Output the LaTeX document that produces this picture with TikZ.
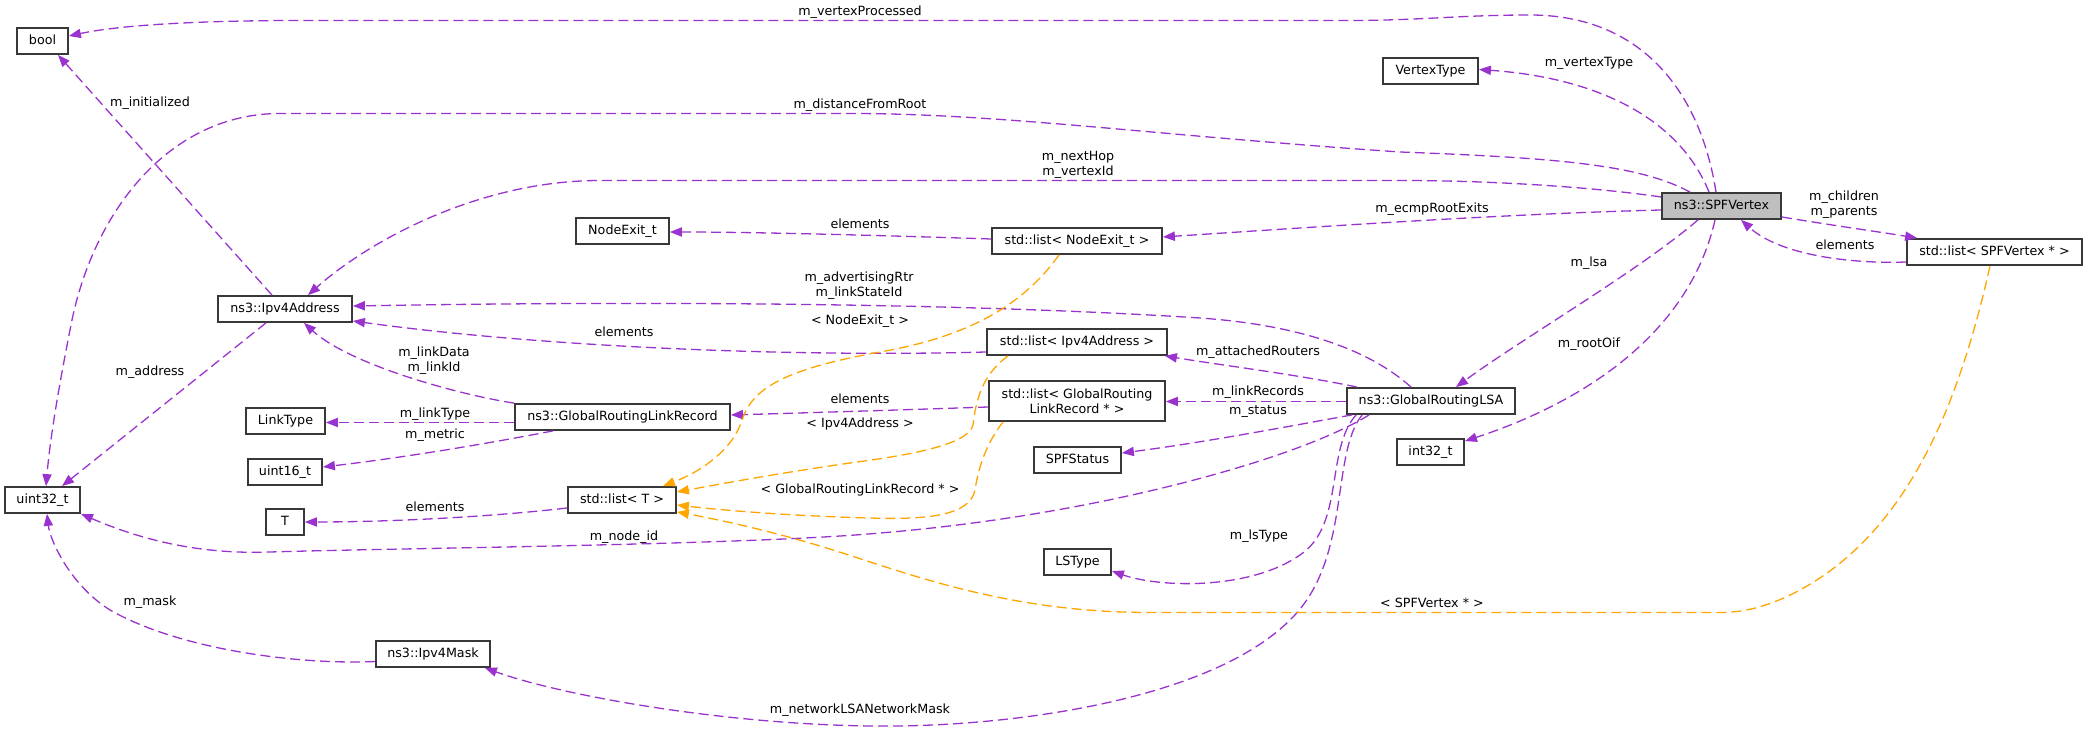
\documentclass[tikz,border=0pt]{standalone}
\usepackage{fontspec}
\setmainfont{DejaVu Sans}
\usetikzlibrary{arrows.meta}
\definecolor{edgep}{HTML}{9A32CD}
\definecolor{edgeo}{HTML}{FFA500}
\definecolor{boxgray}{HTML}{BFBFBF}
\newcommand\dxfont{\fontsize{6.35}{7.4}\selectfont}
\tikzset{
  cls/.style={draw=black!78, line width=0.9pt, fill=white, font=\dxfont, inner xsep=1pt, inner ysep=0pt,
    minimum height=13pt, text height=4.9pt, text depth=1.3pt, align=center},
  lbl/.style={font=\dxfont, inner sep=0pt, align=center},
  pe/.style={draw=edgep, line width=0.65pt, dash pattern=on 5pt off 2.5pt,
    -{Triangle[length=6pt,width=4.6pt,fill=edgep]}},
  oe/.style={draw=edgeo, line width=0.65pt, dash pattern=on 5pt off 2.5pt,
    -{Triangle[length=6pt,width=4.6pt,fill=edgeo]}}
}
\begin{document}
\begin{tikzpicture}[x=0.5pt,y=-0.5pt]
\useasboundingbox (0,0) rectangle (2088,731);
% nodes
\node[cls, minimum width=25.5pt] (bool) at (42.5,41) {bool};
\node[cls, minimum width=47.5pt] (vt) at (1430.5,71) {VertexType};
\node[cls, minimum width=46.5pt] (ne) at (622.5,231) {NodeExit\_t};
\node[cls, minimum width=85pt] (lne) at (1077,241) {std::list\textless{} NodeExit\_t \textgreater{}};
\node[cls, minimum width=59.5pt, fill=boxgray] (spf) at (1721.5,206) {ns3::SPFVertex};
\node[cls, minimum width=87.5pt] (lsv) at (1994.5,252) {std::list\textless{} SPFVertex * \textgreater{}};
\node[cls, minimum width=67pt] (ipa) at (285,309) {ns3::Ipv4Address};
\node[cls, minimum width=90pt] (lia) at (1077,342) {std::list\textless{} Ipv4Address \textgreater{}};
\node[cls, minimum width=107.5pt] (grlr) at (622.5,417) {ns3::GlobalRoutingLinkRecord};
\node[cls, minimum width=88pt, minimum height=20pt, text height=, text depth=] (lgr) at (1077,401) {std::list\textless{} GlobalRouting\\LinkRecord * \textgreater{}};
\node[cls, minimum width=84pt] (lsa) at (1431,401) {ns3::GlobalRoutingLSA};
\node[cls, minimum width=39.5pt] (lty) at (285.5,421) {LinkType};
\node[cls, minimum width=37pt] (u16) at (285,472) {uint16\_t};
\node[cls, minimum width=43.5pt] (sps) at (1077.5,460) {SPFStatus};
\node[cls, minimum width=33.5pt] (i32) at (1430.5,452) {int32\_t};
\node[cls, minimum width=37.5pt] (u32) at (42.5,500) {uint32\_t};
\node[cls, minimum width=19pt] (tt) at (285,522) {T};
\node[cls, minimum width=54pt] (lt) at (622,500) {std::list\textless{} T \textgreater{}};
\node[cls, minimum width=33.5pt] (lst) at (1077.5,562) {LSType};
\node[cls, minimum width=57pt] (msk) at (433,654) {ns3::Ipv4Mask};
% purple edges
\draw[pe] ([shift={(-5.5,0)}]spf.north) .. controls (1700,90) and (1640,15) .. (1530,15)
  .. controls (1460,15) and (1420,20.5) .. (1350,20.5) -- (300,20.5) .. controls (200,20.5) and (120,25) .. ([shift={(0,-5)}]bool.east);
\draw[pe] ([shift={(-12.5,0)}]spf.north) .. controls (1680,120) and (1600,78) .. ([shift={(0,-1.5)}]vt.east);
\draw[pe] ([shift={(-31.5,0)}]spf.north) .. controls (1640,165) and (1560,158) .. (1400,152)
  .. controls (1150,135) and (1000,113.5) .. (850,113.5) -- (280,113.5)
  .. controls (170,113.5) and (95,210) .. (72,320) .. controls (58,390) and (50,440) .. ([shift={(3.5,0)}]u32.north);
\draw[pe] ([shift={(0,-9)}]spf.west) .. controls (1600,188) and (1500,180.5) .. (1400,180.5) -- (600,180.5)
  .. controls (480,180.5) and (370,240) .. ([shift={(23,0)}]ipa.north);
\draw[pe] ([shift={(0,4)}]spf.west) .. controls (1500,214) and (1300,228) .. ([shift={(0,-4)}]lne.east);
\draw[pe] ([shift={(0,-2)}]lne.west) .. controls (900,236) and (760,232) .. ([shift={(0,1)}]ne.east);
\draw[pe] ([shift={(0,11)}]spf.east) .. controls (1830,225) and (1880,232) .. ([shift={(11,0)}]lsv.north west);
\draw[pe] ([shift={(0,10)}]lsv.west) .. controls (1850,264) and (1780,255) .. ([shift={(19.5,0)}]spf.south);
\draw[pe] ([shift={(-23.5,0)}]spf.south) .. controls (1640,270) and (1520,340) .. ([shift={(25,0)}]lsa.north);
\draw[pe] ([shift={(-6.5,0)}]spf.south) .. controls (1690,330) and (1590,400) .. ([shift={(0,3)}]i32.north east);
\draw[pe] ([shift={(-20,0)}]lsa.north) .. controls (1370,350) and (1300,325) .. (1200,318)
  .. controls (1000,305) and (700,300) .. ([shift={(0,-3)}]ipa.east);
\draw[pe] ([shift={(0,10)}]lia.west) .. controls (800,357) and (550,348) .. ([shift={(0,12)}]ipa.east);
\draw[pe] ([shift={(11,0)}]lsa.north west) .. controls (1300,375) and (1220,365) .. ([shift={(-3,0)}]lia.south east);
\draw[pe] ([shift={(0,0.5)}]lsa.west) -- ([shift={(0,0.5)}]lgr.east);
\draw[pe] ([shift={(6,0)}]lsa.south west) .. controls (1280,428) and (1200,443) .. ([shift={(0,-7)}]sps.east);
\draw[pe] ([shift={(10,0)}]lsa.south west) .. controls (1325,450) and (1345,525) .. (1300,555)
  .. controls (1250,590) and (1160,588) .. ([shift={(0,9)}]lst.east);
\draw[pe] ([shift={(23,0)}]lsa.south west) .. controls (1300,458) and (1100,515) .. (880,533)
  .. controls (750,545) and (400,548) .. (270,552) .. controls (190,555) and (130,535) .. (u32.south east);
\draw[pe] ([shift={(16,0)}]lsa.south west) .. controls (1330,455) and (1352,560) .. (1290,620)
  .. controls (1210,700) and (1010,728) .. (870,726) .. controls (720,724) and (560,695) .. ([shift={(-6,0)}]msk.south east);
\draw[pe] ([shift={(0,5.5)}]grlr.west) -- ([shift={(0,1.5)}]lty.east);
\draw[pe] ([shift={(39,0)}]grlr.south west) .. controls (480,445) and (400,458) .. ([shift={(0,-5)}]u16.east);
\draw[pe] (grlr.north west) .. controls (460,395) and (350,365) .. ([shift={(19,0)}]ipa.south);
\draw[pe] ([shift={(0,6)}]lgr.west) .. controls (900,410) and (800,413) .. ([shift={(0,-2)}]grlr.east);
\draw[pe] ([shift={(-19,0)}]ipa.south) -- ([shift={(19.5,0)}]u32.north);
\draw[pe] ([shift={(-13,0)}]ipa.north) -- ([shift={(15.5,0)}]bool.south);
\draw[pe] ([shift={(0,8)}]lt.west) .. controls (480,518) and (380,522) .. (tt.east);
\draw[pe] ([shift={(0,7.5)}]msk.west) .. controls (300,665) and (180,650) .. (110,610)
  .. controls (70,585) and (50,540) .. ([shift={(4.5,0)}]u32.south);
% orange edges
\draw[oe] ([shift={(-18,0)}]lne.south) .. controls (1020,310) and (960,338) .. (880,352)
  .. controls (780,370) and (752,390) .. (742,420) .. controls (733,450) and (700,472) .. ([shift={(-14,0)}]lt.north east);
\draw[oe] ([shift={(-69,0)}]lia.south) .. controls (982,375) and (976,400) .. (973,425)
  .. controls (968,445) and (910,455) .. (850,463) .. controls (780,473) and (720,484) .. ([shift={(0,-8)}]lt.east);
\draw[oe] ([shift={(15,0)}]lgr.south west) .. controls (985,445) and (978,470) .. (975,490)
  .. controls (970,515) and (930,520) .. (870,518) .. controls (790,516) and (720,510) .. ([shift={(0,5)}]lt.east);
\draw[oe] ([shift={(-4.5,0)}]lsv.south) .. controls (1960,400) and (1910,530) .. (1800,590)
  .. controls (1770,606) and (1745,612.5) .. (1720,612.5) -- (1150,612.5)
  .. controls (1000,612.5) and (900,570) .. (820,546) .. controls (760,528) and (710,518) .. ([shift={(0,12)}]lt.east);
% labels
\node[lbl] (l1) at (860,12) {m\_vertexProcessed};
\node[lbl] (l2) at (1589,63) {m\_vertexType};
\node[lbl] (l3) at (150,103) {m\_initialized};
\node[lbl] (l4) at (860,105) {m\_distanceFromRoot};
\node[lbl] (l5) at (1078,164.5) {m\_nextHop\\m\_vertexId};
\node[lbl] (l6) at (1432,209) {m\_ecmpRootExits};
\node[lbl] (l7) at (860,224) {elements};
\node[lbl] (l8) at (1844,204.5) {m\_children\\m\_parents};
\node[lbl] (l9) at (1845,245) {elements};
\node[lbl] (l10) at (1589,263) {m\_lsa};
\node[lbl] (l11) at (859,285.5) {m\_advertisingRtr\\m\_linkStateId};
\node[lbl] (l12) at (860,321) {\textless{} NodeExit\_t \textgreater{}};
\node[lbl] (l13) at (624,332) {elements};
\node[lbl] (l14) at (1589,344) {m\_rootOif};
\node[lbl] (l15) at (1258,352) {m\_attachedRouters};
\node[lbl] (l16) at (434,361) {m\_linkData\\m\_linkId};
\node[lbl] (l17) at (150,372) {m\_address};
\node[lbl] (l18) at (1258,392) {m\_linkRecords};
\node[lbl] (l19) at (860,399) {elements};
\node[lbl] (l20) at (435,414) {m\_linkType};
\node[lbl] (l21) at (1258,412) {m\_status};
\node[lbl] (l22) at (860,424) {\textless{} Ipv4Address \textgreater{}};
\node[lbl] (l23) at (435,435) {m\_metric};
\node[lbl] (l24) at (860,490) {\textless{} GlobalRoutingLinkRecord * \textgreater{}};
\node[lbl] (l25) at (435,507) {elements};
\node[lbl] (l26) at (1259,536) {m\_lsType};
\node[lbl] (l27) at (624,537) {m\_node\_id};
\node[lbl] (l28) at (150,602) {m\_mask};
\node[lbl] (l29) at (1432,603) {\textless{} SPFVertex * \textgreater{}};
\node[lbl] (l30) at (860,710) {m\_networkLSANetworkMask};
\end{tikzpicture}
\end{document}
